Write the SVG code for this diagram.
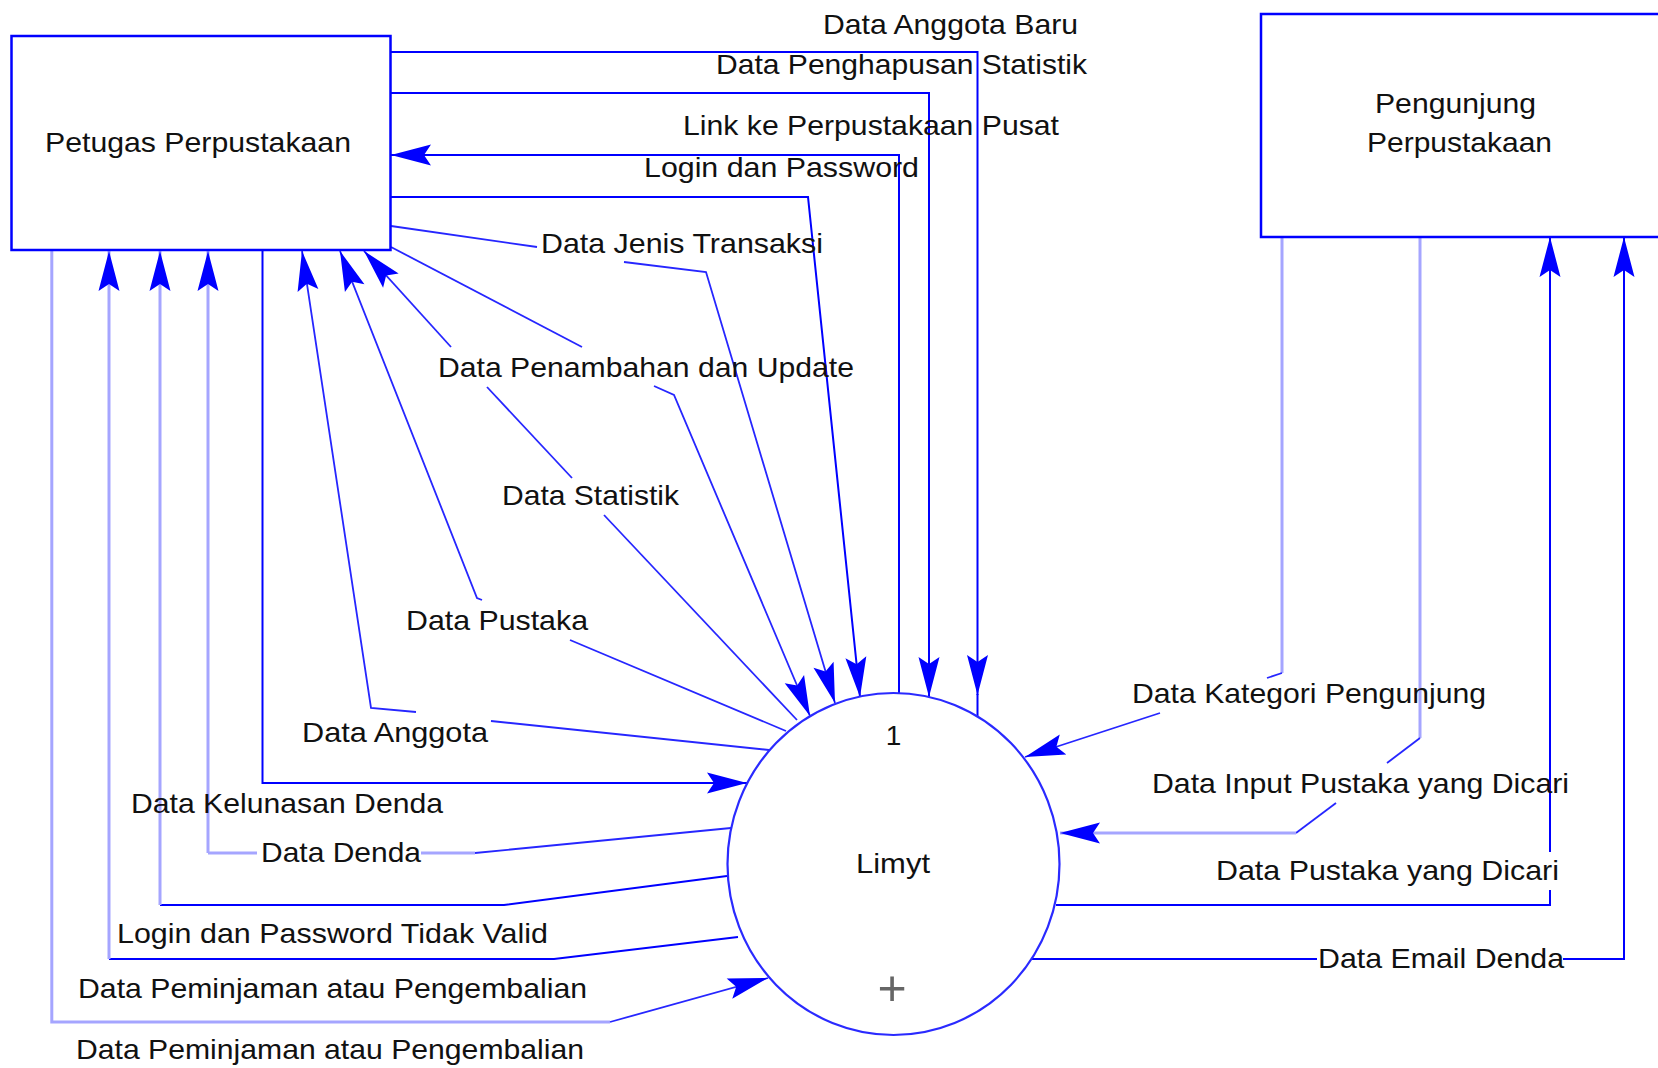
<svg xmlns="http://www.w3.org/2000/svg" width="1658" height="1068" viewBox="0 0 1658 1068">
<style>
.box{fill:#fff;stroke:#0000ff;stroke-width:2.5}
.proc{fill:#fff;stroke:#2a2aff;stroke-width:2.2}
.ln{fill:none;stroke:#0000ff;stroke-width:2}
.pale{fill:none;stroke:#a5a5ff;stroke-width:3}
.dg{fill:none;stroke:#2626ff;stroke-width:1.8}
text{font-family:"Liberation Sans",Arial,sans-serif;font-size:28px;fill:#111}
.arr{marker-end:url(#ah)}
</style>
<defs>
<marker id="ah" viewBox="-42 -12 44 24" refX="0" refY="0" markerWidth="44" markerHeight="24" markerUnits="userSpaceOnUse" orient="auto">
<path d="M0,0 L-40,-10.5 L-33,0 L-40,10.5 Z" fill="#0000ff"/>
</marker>
</defs>
<rect width="1658" height="1068" fill="#fff"/>

<g id="connectors">
<!-- A -->
<path class="ln arr" d="M390,52 H977.5 V695"/>
<path class="ln" d="M977.5,694 V718"/>
<!-- B -->
<path class="ln arr" d="M390,93 H929 V697"/>
<!-- C -->
<path class="ln arr" d="M899,694 V155 H391"/>
<!-- D -->
<path class="ln arr" d="M390,197 H808 L860,697"/>
<!-- E -->
<path class="dg" d="M391,226 L537,247"/>
<path class="dg arr" d="M624,262 L706,272 L835,703"/>
<!-- F -->
<path class="dg" d="M391,247 L582,347"/>
<path class="dg arr" d="M654,386 L674,395 L810,716"/>
<!-- G -->
<path class="dg" d="M797,720 L604,515"/>
<path class="dg" d="M572,478 L487,387"/>
<path class="dg arr" d="M451,347 L364,251"/>
<!-- H -->
<path class="dg" d="M786,731 L570,640"/>
<path class="dg arr" d="M482,600 L477,598 L340,251"/>
<!-- I -->
<path class="dg" d="M769,750 L491,721"/>
<path class="dg arr" d="M416,712 L371,708 L302,251"/>
<!-- J -->
<path class="ln arr" d="M262.5,250 V783 H747"/>
<!-- K -->
<path class="dg" d="M731,828 L475,853"/>
<path class="pale" d="M475,853 H421"/>
<path class="pale" d="M257,853 H208"/>
<path class="pale arr" d="M208,853 V251"/>
<!-- L -->
<path class="ln" d="M727,876 L504,905 H160"/>
<path class="pale arr" d="M160,905 V251"/>
<!-- M -->
<path class="ln" d="M738,937 L554,959 H109"/>
<path class="pale arr" d="M109,959 V251"/>
<!-- N -->
<path class="pale" d="M51.8,250 V1022 H610"/>
<path class="dg arr" d="M610,1022 L768,978"/>
<!-- O -->
<path class="pale" d="M1282,237 V673"/>
<path class="dg" d="M1282,673 L1267,678"/>
<path class="dg arr" d="M1160,713 L1025,757"/>
<!-- P -->
<path class="pale" d="M1420,237 V738"/>
<path class="dg" d="M1420,738 L1387,763"/>
<path class="dg" d="M1336,803 L1296,833"/>
<path class="pale arr" d="M1296,833 H1060"/>
<!-- Q -->
<path class="ln" d="M1056,905 H1550 V890"/>
<path class="ln arr" d="M1550,852 V237"/>
<!-- R -->
<path class="ln" d="M1031,959 H1317"/>
<path class="ln arr" d="M1563,959 H1624 V237"/>
</g>

<g id="node-petugas">
<rect class="box" x="11.5" y="36" width="379" height="214"/>
<text x="45" y="152" textLength="306" lengthAdjust="spacingAndGlyphs">Petugas Perpustakaan</text>
</g>

<g id="node-pengunjung">
<rect class="box" x="1261" y="14" width="420" height="223"/>
<text x="1375" y="113" textLength="161" lengthAdjust="spacingAndGlyphs">Pengunjung</text>
<text x="1367" y="152" textLength="185" lengthAdjust="spacingAndGlyphs">Perpustakaan</text>
</g>

<g id="node-limyt">
<ellipse class="proc" cx="893.5" cy="864" rx="166" ry="171"/>
<text x="893.5" y="745" text-anchor="middle">1</text>
<text x="856" y="873" textLength="74" lengthAdjust="spacingAndGlyphs">Limyt</text>
<text x="892" y="1005" text-anchor="middle" style="font-size:50px;fill:#666">+</text>
</g>

<g id="labels">
<text x="823" y="34" textLength="255" lengthAdjust="spacingAndGlyphs">Data Anggota Baru</text>
<text x="716" y="74" textLength="371" lengthAdjust="spacingAndGlyphs">Data Penghapusan Statistik</text>
<text x="683" y="135" textLength="376" lengthAdjust="spacingAndGlyphs">Link ke Perpustakaan Pusat</text>
<text x="644" y="177" textLength="275" lengthAdjust="spacingAndGlyphs">Login dan Password</text>
<text x="541" y="253" textLength="282" lengthAdjust="spacingAndGlyphs">Data Jenis Transaksi</text>
<text x="438" y="377" textLength="416" lengthAdjust="spacingAndGlyphs">Data Penambahan dan Update</text>
<text x="502" y="505" textLength="177" lengthAdjust="spacingAndGlyphs">Data Statistik</text>
<text x="406" y="630" textLength="182" lengthAdjust="spacingAndGlyphs">Data Pustaka</text>
<text x="302" y="742" textLength="186" lengthAdjust="spacingAndGlyphs">Data Anggota</text>
<text x="131" y="813" textLength="312" lengthAdjust="spacingAndGlyphs">Data Kelunasan Denda</text>
<text x="261" y="862" textLength="160" lengthAdjust="spacingAndGlyphs">Data Denda</text>
<text x="117" y="943" textLength="431" lengthAdjust="spacingAndGlyphs">Login dan Password Tidak Valid</text>
<text x="78" y="998" textLength="509" lengthAdjust="spacingAndGlyphs">Data Peminjaman atau Pengembalian</text>
<text x="76" y="1059" textLength="508" lengthAdjust="spacingAndGlyphs">Data Peminjaman atau Pengembalian</text>
<text x="1132" y="703" textLength="354" lengthAdjust="spacingAndGlyphs">Data Kategori Pengunjung</text>
<text x="1152" y="793" textLength="417" lengthAdjust="spacingAndGlyphs">Data Input Pustaka yang Dicari</text>
<text x="1216" y="880" textLength="343" lengthAdjust="spacingAndGlyphs">Data Pustaka yang Dicari</text>
<text x="1318" y="968" textLength="246" lengthAdjust="spacingAndGlyphs">Data Email Denda</text>
</g>
</svg>
